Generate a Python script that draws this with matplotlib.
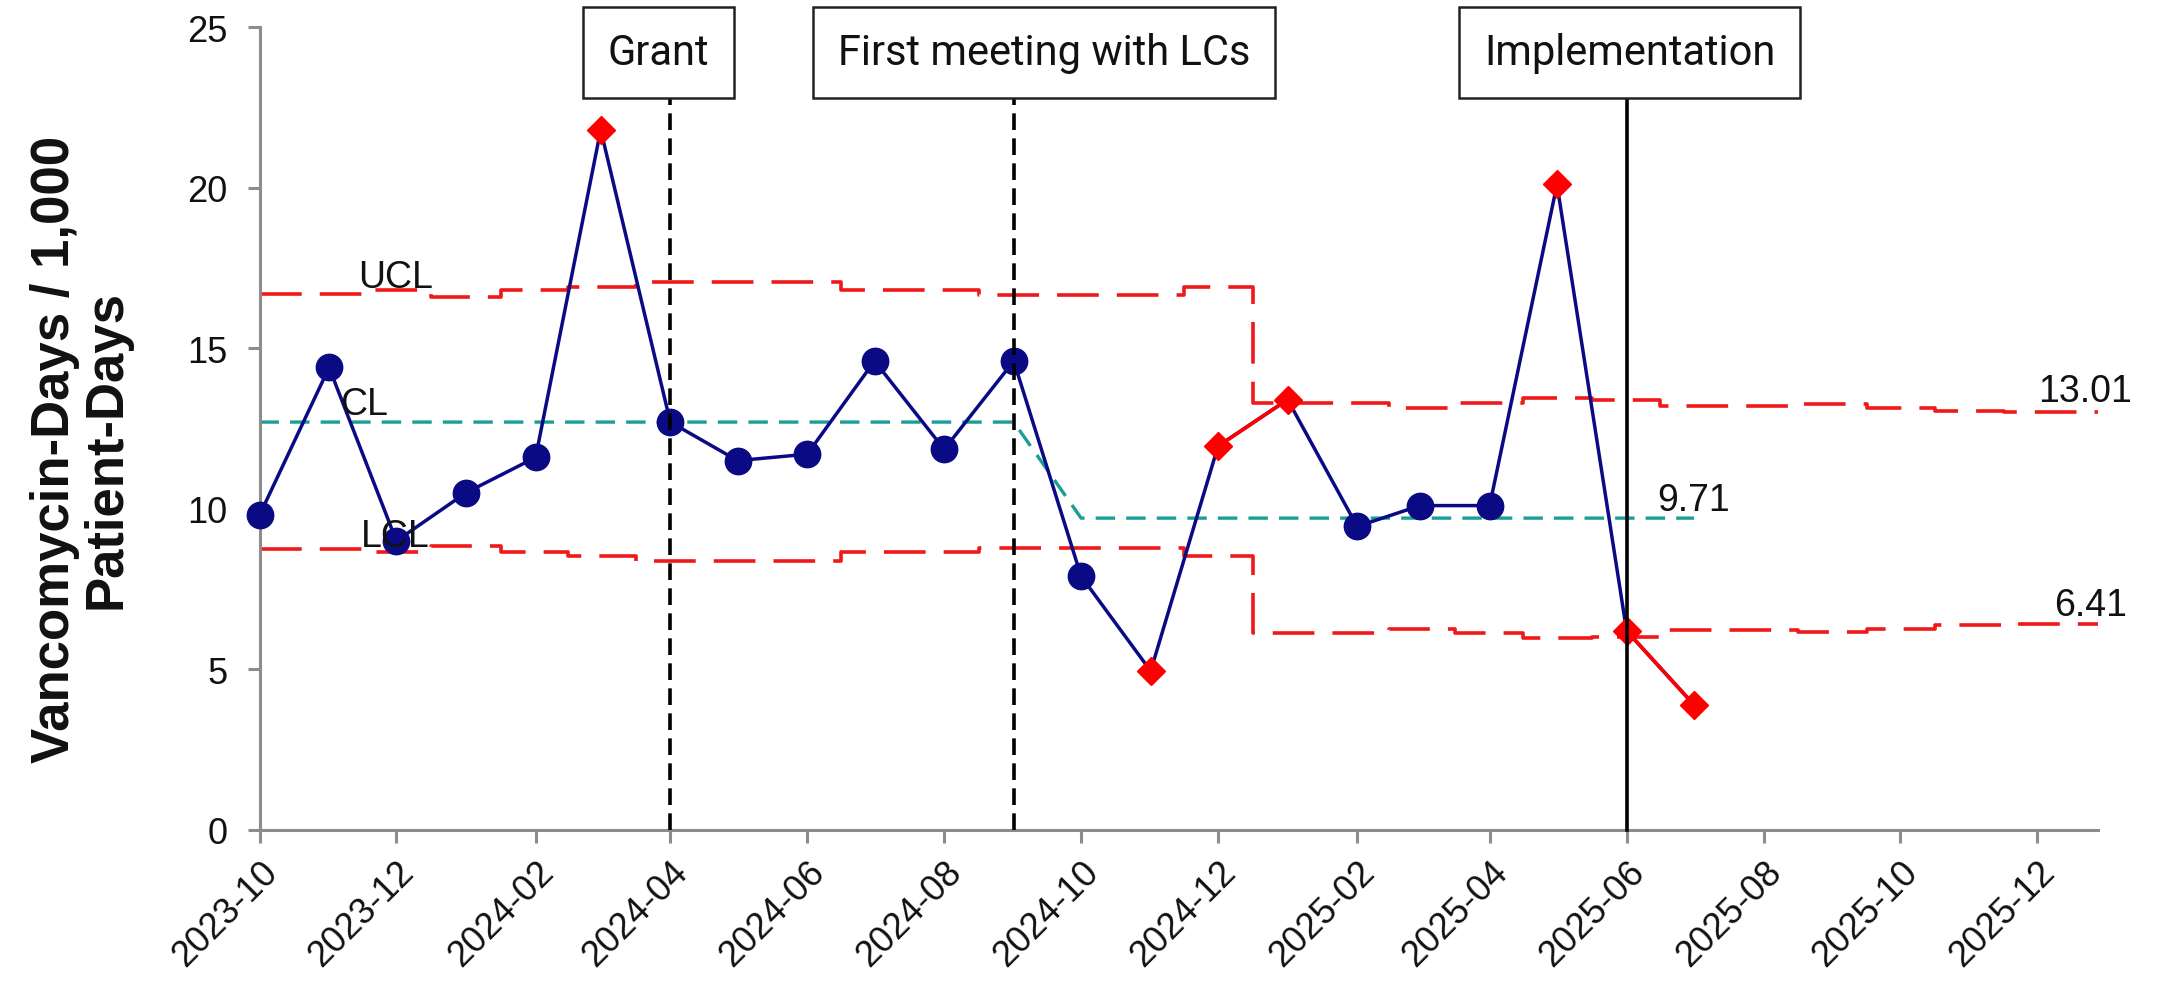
import matplotlib
matplotlib.use("Agg")
import matplotlib.pyplot as plt
import pandas as pd

plt.rcParams["font.family"] = ["Liberation Sans", "DejaVu Sans"]
plt.rcParams["lines.scale_dashes"] = False

# ---------------- data ----------------
months = ["2023-10", "2023-11", "2023-12", "2024-01", "2024-02", "2024-03",
          "2024-04", "2024-05", "2024-06", "2024-07", "2024-08", "2024-09",
          "2024-10", "2024-11", "2024-12", "2025-01", "2025-02", "2025-03",
          "2025-04", "2025-05", "2025-06", "2025-07"]
rate = [9.8, 14.4, 9.0, 10.5, 11.6, 21.8, 12.7, 11.5, 11.7, 14.6, 11.85,
        14.6, 7.9, 4.95, 11.95, 13.4, 9.45, 10.1, 10.1, 20.1, 6.2, 3.9]
signal_months = ["2024-03", "2024-11", "2024-12", "2025-01", "2025-05",
                 "2025-06", "2025-07"]
red_segments = [("2024-12", "2025-01"), ("2025-06", "2025-07")]

cl = [12.7, 12.7, 12.7, 12.7, 12.7, 12.7, 12.7, 12.7, 12.7, 12.7, 12.7,
      12.7, 9.71, 9.71, 9.71, 9.71, 9.71, 9.71, 9.71, 9.71, 9.71, 9.71]

limit_months = months + ["2025-08", "2025-09", "2025-10", "2025-11",
                         "2025-12", "2026-01"]
ucl = [16.70, 16.70, 16.80, 16.60, 16.80, 16.90, 17.05, 17.05, 17.05, 16.80,
       16.80, 16.65, 16.65, 16.65, 16.90,
       13.30, 13.30, 13.15, 13.30, 13.45, 13.40, 13.20, 13.20, 13.25, 13.15,
       13.05, 13.01, 13.01]
lcl = [8.74, 8.74, 8.64, 8.84, 8.64, 8.54, 8.39, 8.39, 8.39, 8.64,
       8.64, 8.79, 8.79, 8.79, 8.54,
       6.12, 6.12, 6.27, 6.12, 5.97, 6.02, 6.22, 6.22, 6.17, 6.27,
       6.37, 6.41, 6.41]

events = ["Grant", "First meeting with LCs", "Implementation"]
event_months = ["2024-04", "2024-09", "2025-06"]
event_styles = ["--", "--", "-"]

tick_labels = ["2023-10", "2023-12", "2024-02", "2024-04", "2024-06",
               "2024-08", "2024-10", "2024-12", "2025-02", "2025-04",
               "2025-06", "2025-08", "2025-10", "2025-12"]

# ---------------- figure ----------------
W, H = 2176, 995
fig = plt.figure(figsize=(W / 100, H / 100), dpi=100)
ax = fig.add_axes([259.5 / W, 1 - 831 / H, (2098 - 259.5) / W, (831 - 28) / H])

d = pd.to_datetime(months)
ld = pd.to_datetime(limit_months)
ev = pd.to_datetime(event_months)

navy = "#0a0a85"
red = "#ff0000"
teal = "#1a9e96"

# control limits
ax.plot(ld, ucl, drawstyle="steps-mid", color="#f01818", lw=2.6,
        dashes=(30, 13), zorder=2)
ax.plot(ld, lcl, drawstyle="steps-mid", color="#f01818", lw=2.6,
        dashes=(30, 13), zorder=2)
ax.plot(d, cl, color=teal, lw=2.4, dashes=(14, 8), zorder=2)

# data line
ax.plot(d, rate, color=navy, lw=2.5, zorder=3)
for a, b in red_segments:
    i, j = months.index(a), months.index(b)
    ax.plot(d[[i, j]], [rate[i], rate[j]], color=red, lw=2.6, zorder=3.5)

blue_idx = [i for i, m in enumerate(months) if m not in signal_months]
red_idx = [i for i, m in enumerate(months) if m in signal_months]
ax.plot(d[blue_idx], [rate[i] for i in blue_idx], "o", color=navy,
        ms=19, mec=navy, zorder=4, clip_on=False)
ax.plot(d[red_idx], [rate[i] for i in red_idx], "D", color=red,
        ms=14, mec=red, zorder=4, clip_on=False)

# event lines and boxes
box_offsets = [-12, 30, 3]
for name, t, ls, off in zip(events, ev, event_styles, box_offsets):
    if ls == "--":
        ax.plot([t, t], [0, 22.8], color="black", lw=2.6, dashes=(12, 6),
                zorder=5, clip_on=False)
    else:
        ax.plot([t, t], [0, 22.8], color="black", lw=2.6, zorder=5,
                clip_on=False)
    ax.annotate(name, xy=(t, 24.2), xytext=(off, 0),
                textcoords="offset pixels", ha="center", va="center",
                fontsize=30, family=["Roboto", "DejaVu Sans"], zorder=6,
                color="#111111",
                bbox=dict(boxstyle="square,pad=0.6", fc="white",
                          ec="#222222", lw=1.8))

# limit labels
ax.text(pd.Timestamp("2023-11-14"), 16.9, "UCL", fontsize=27, ha="left",
        va="baseline", color="#111111", zorder=6)
ax.text(pd.Timestamp("2023-11-06"), 12.94, "CL", fontsize=27, ha="left",
        va="baseline", color="#111111", zorder=6)
ax.text(pd.Timestamp("2023-11-15"), 8.84, "LCL", fontsize=27, ha="left",
        va="baseline", color="#111111", zorder=6)
ax.text(pd.Timestamp("2026-01-12"), 13.35, f"{ucl[-1]:.2f}", fontsize=27,
        ha="right", va="baseline", color="#111111", clip_on=False)
ax.text(pd.Timestamp("2025-07-17"), 9.95, f"{cl[-1]:.2f}", fontsize=27,
        ha="right", va="baseline", color="#111111", clip_on=False)
ax.text(pd.Timestamp("2026-01-10"), 6.70, f"{lcl[-1]:.2f}", fontsize=27,
        ha="right", va="baseline", color="#111111", clip_on=False)

# axes styling
ax.set_xlim(pd.Timestamp("2023-10-01"), pd.Timestamp("2025-12-28"))
ax.set_ylim(0, 25)
ax.set_yticks([0, 5, 10, 15, 20, 25])
ax.set_xticks(pd.to_datetime(tick_labels))
ax.set_xticklabels(tick_labels, rotation=45, ha="right", va="top",
                   rotation_mode="anchor")
for s in ["top", "right"]:
    ax.spines[s].set_visible(False)
for s in ["left", "bottom"]:
    ax.spines[s].set_color("#8c8c8c")
    ax.spines[s].set_linewidth(2.2)
ax.tick_params(axis="both", colors="#8c8c8c", width=2.2, length=9,
               labelsize=26, labelcolor="#111111")
ax.tick_params(axis="y", pad=14)
ax.tick_params(axis="x", pad=8)

fig.text(0.037, 0.548, "Vancomycin-Days / 1,000\nPatient-Days", rotation=90,
         ha="center", va="center", fontsize=38, fontweight="bold",
         linespacing=1.05, color="#111111")

fig.savefig("out.png", dpi=100)
